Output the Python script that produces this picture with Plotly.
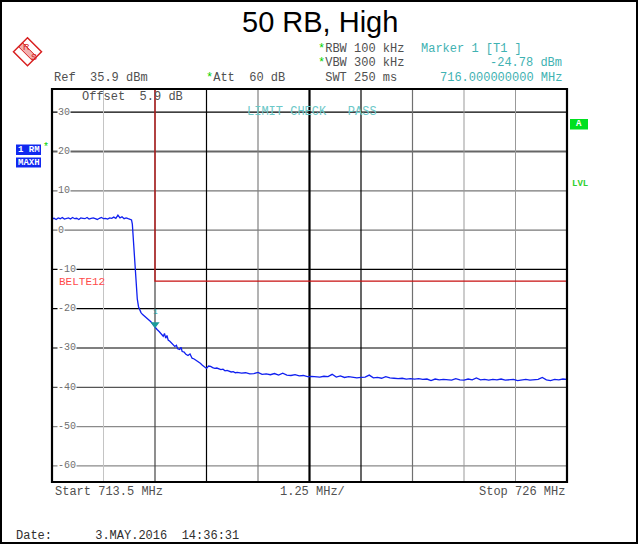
import plotly.graph_objects as go

# ---- trace data ----
# flat in-band part of the sweep
FLAT_MHZ = [713.50, 713.55, 713.60, 713.65, 713.70, 713.75, 713.80, 713.85, 713.90, 713.95,
            714.00, 714.05, 714.10, 714.15, 714.20, 714.25, 714.30, 714.35, 714.40, 714.45,
            714.50, 714.55, 714.60, 714.65, 714.70, 714.75, 714.80, 714.85, 714.90, 714.95,
            715.00, 715.05, 715.10, 715.15, 715.20, 715.25, 715.30, 715.35, 715.40]
FLAT_DBM = [2.9, 3.0, 2.7, 3.1, 2.9, 3.2, 2.8, 3.0, 3.1, 2.8,
            3.2, 2.9, 3.0, 2.7, 3.1, 3.0, 2.9, 3.2, 2.8, 3.0,
            3.1, 2.9, 2.7, 3.0, 3.2, 2.9, 3.0, 2.8, 3.1, 3.0,
            3.3, 3.0, 3.8, 3.1, 3.4, 2.9, 3.1, 2.9, 2.8]

# band edge roll-off
EDGE_MHZ = [715.43, 715.45, 715.47, 715.49, 715.51, 715.53, 715.55, 715.57, 715.60, 715.63,
            715.66, 715.70, 715.75, 715.80, 715.85, 715.90, 715.95, 716.00, 716.05, 716.10,
            716.15, 716.20, 716.23, 716.26, 716.29, 716.32, 716.36, 716.40, 716.44, 716.48,
            716.52, 716.55, 716.60, 716.63, 716.66, 716.70, 716.75, 716.80, 716.85, 716.90,
            716.95, 717.00, 717.05, 717.10, 717.15, 717.20, 717.25, 717.30, 717.35, 717.40,
            717.45, 717.50, 717.55, 717.60, 717.65, 717.70, 717.75, 717.80, 717.85, 717.90,
            717.95, 718.00]
EDGE_DBM = [2.6, 1.5, -2.0, -6.0, -9.5, -13.0, -16.5, -17.5, -19.5, -20.5,
            -21.0, -21.5, -21.9, -22.4, -22.8, -23.3, -24.0, -24.8, -25.3, -25.8,
            -26.5, -27.0, -26.3, -27.5, -26.8, -28.0, -28.3, -28.8, -29.2, -29.6,
            -29.3, -30.2, -30.4, -29.8, -30.9, -31.0, -31.6, -31.9, -31.5, -32.6,
            -32.8, -33.1, -33.5, -33.9, -34.4, -34.8, -35.2, -34.6, -34.7, -35.0,
            -35.2, -35.1, -35.3, -35.5, -35.4, -35.8, -35.7, -36.0, -36.1, -36.0,
            -36.3, -36.2]

# out-of-band noise floor
TAIL_MHZ = [718.1, 718.2, 718.3, 718.4, 718.5, 718.6, 718.7, 718.8, 718.9, 719.0,
            719.1, 719.2, 719.3, 719.4, 719.5, 719.6, 719.7, 719.8, 719.9, 720.0,
            720.1, 720.2, 720.3, 720.4, 720.5, 720.6, 720.7, 720.8, 720.9, 721.0,
            721.1, 721.2, 721.3, 721.4, 721.5, 721.6, 721.7, 721.8, 721.9, 722.0,
            722.1, 722.2, 722.3, 722.4, 722.5, 722.6, 722.7, 722.8, 722.9, 723.0,
            723.1, 723.2, 723.3, 723.4, 723.5, 723.6, 723.7, 723.8, 723.9, 724.0,
            724.1, 724.2, 724.3, 724.4, 724.5, 724.6, 724.7, 724.8, 724.9, 725.0,
            725.1, 725.2, 725.3, 725.4, 725.5, 725.6, 725.7, 725.8, 725.9, 726.0]
TAIL_DBM = [-36.4, -36.3, -36.6, -36.5, -36.2, -36.7, -36.6, -36.8, -36.5, -36.9,
            -36.4, -36.9, -37.0, -36.8, -37.1, -37.0, -37.3, -37.2, -37.3, -37.4,
            -37.2, -37.3, -36.7, -37.4, -37.1, -37.5, -37.3, -37.4, -37.6, -37.5,
            -37.4, -36.9, -37.6, -37.5, -37.7, -37.3, -37.6, -37.7, -37.8, -37.7,
            -37.9, -37.8, -37.9, -37.8, -38.0, -37.9, -38.3, -37.9, -38.1, -38.0,
            -38.1, -38.2, -37.8, -38.1, -38.2, -37.9, -38.1, -37.6, -38.1, -38.0,
            -38.2, -38.0, -38.1, -37.9, -38.2, -38.1, -38.0, -38.3, -38.1, -38.0,
            -38.2, -38.1, -38.0, -37.5, -38.1, -38.3, -38.0, -38.1, -37.9, -38.0]

LIMIT_MHZ = [716.0, 716.0, 726.0]
LIMIT_DBM = [35.9, -13.0, -13.0]

MARKER_MHZ = 716.0
MARKER_DBM = -24.78

REF_LEVEL = 35.9
START_MHZ, STOP_MHZ = 713.5, 726.0
Y_TICKS = [30, 20, 10, 0, -10, -20, -30, -40, -50, -60]
X_GRID = [714.75, 716.0, 717.25, 718.5, 719.75, 721.0, 722.25, 723.5, 724.75]

# gridline look (they are not all equal)
Y_GRID_STYLE = {30: ("#000000", 1.2), 20: ("#666666", 2), 10: ("#777777", 1.2),
                0: ("#777777", 1.2), -10: ("#000000", 1.2), -20: ("#000000", 1.2),
                -30: ("#000000", 1.2), -40: ("#555555", 1.2), -50: ("#8a8a8a", 1.2),
                -60: ("#8a8a8a", 1.2)}
X_GRID_STYLE = ["#c4c4c4", "#444444", "#000000", "#808080", "#000000",
                "#000000", "#707070", "#999999", "#999999"]
X_GRID_WIDTH = [1, 1.2, 1.2, 1.2, 2.2, 1.2, 1.2, 1, 1]

MONO = "Liberation Mono, Courier New, monospace"
GRAY = "#505050"
TEAL = "#3fb2b2"
GREEN = "#00d000"

# plot area in pixels: left 52, right 567, top 89, bottom 482
L, R, T, B = 52, 567, 89, 482


def px(x):
    return (x - L) / (R - L)


def py(y):
    return (B - y) / (B - T)


freq = FLAT_MHZ + EDGE_MHZ + TAIL_MHZ
level = FLAT_DBM + EDGE_DBM + TAIL_DBM

fig = go.Figure()
fig.add_trace(go.Scatter(x=LIMIT_MHZ, y=LIMIT_DBM, mode="lines",
                         line=dict(color="#c81010", width=1.2), hoverinfo="skip"))
fig.add_trace(go.Scatter(x=freq, y=level, mode="lines",
                         line=dict(color="#1020f0", width=1.3)))
fig.add_trace(go.Scatter(x=[MARKER_MHZ], y=[MARKER_DBM + 0.8], mode="markers",
                         marker=dict(symbol="triangle-down", size=8, color="#1a9a9a")))

shapes = []
for v in Y_TICKS:
    c, w = Y_GRID_STYLE[v]
    shapes.append(dict(type="line", xref="paper", yref="y", x0=0, x1=1, y0=v, y1=v,
                       line=dict(color=c, width=w), layer="below"))
for f, c, w in zip(X_GRID, X_GRID_STYLE, X_GRID_WIDTH):
    shapes.append(dict(type="line", xref="x", yref="paper", x0=f, x1=f, y0=0, y1=1,
                       line=dict(color=c, width=w), layer="below"))
# plot frame
shapes.append(dict(type="rect", xref="paper", yref="paper", x0=0, x1=1, y0=0, y1=1,
                   line=dict(color="black", width=2.2)))
# outer border of the screenshot
shapes.append(dict(type="rect", xref="paper", yref="paper", x0=px(1), x1=px(637),
                   y0=py(543), y1=py(1), line=dict(color="black", width=2)))
# blue trace boxes
shapes.append(dict(type="rect", xref="paper", yref="paper", x0=px(16), x1=px(41),
                   y0=py(155), y1=py(144.5), fillcolor="#1028f0", line=dict(width=0)))
shapes.append(dict(type="rect", xref="paper", yref="paper", x0=px(16), x1=px(41),
                   y0=py(167.5), y1=py(157.5), fillcolor="#1028f0", line=dict(width=0)))
# green "A" box
shapes.append(dict(type="rect", xref="paper", yref="paper", x0=px(570), x1=px(588),
                   y0=py(129.5), y1=py(119), fillcolor="#00e020", line=dict(width=0)))
# R&S logo diamond
cx, cy, h = 27.5, 51.7, 14
diamond = "M {} {} L {} {} L {} {} L {} {} Z".format(
    px(cx - h), py(cy), px(cx), py(cy - h), px(cx + h), py(cy), px(cx), py(cy + h))
shapes.append(dict(type="path", xref="paper", yref="paper", path=diamond,
                   line=dict(color="#d82020", width=1.5)))
band = "M {} {} L {} {} L {} {} L {} {} Z".format(
    px(cx - 5), py(cy - 9), px(cx + 9), py(cy + 5), px(cx + 5), py(cy + 9), px(cx - 9), py(cy - 5))
shapes.append(dict(type="path", xref="paper", yref="paper", path=band,
                   line=dict(color="#d82020", width=1), fillcolor="rgba(216,32,32,0.35)"))


def txt(x, y, s, color=GRAY, size=12, anchor="left", family=MONO, **kw):
    return dict(x=px(x), y=py(y), xref="paper", yref="paper", text=s, showarrow=False,
                xanchor=anchor, yanchor="middle", font=dict(family=family, size=size, color=color),
                **kw)


ann = []
# level labels sit on the gridlines, breaking them
for v in Y_TICKS:
    ann.append(dict(x=px(57), y=v, xref="paper", yref="y", text=str(v), showarrow=False,
                    xanchor="left", yanchor="middle", bgcolor="white", borderpad=0,
                    font=dict(family=MONO, size=10, color="#707070")))

ann += [
    txt(319.5, 22, "50 RB, High", color="black", size=29, anchor="center",
        family="Liberation Sans, Arial, sans-serif"),
    txt(316, 49, "<span style='color:%s'>*</span>RBW 100 kHz" % GREEN),
    txt(316, 63, "<span style='color:%s'>*</span>VBW 300 kHz" % GREEN),
    txt(316, 78, " SWT 250 ms"),
    txt(419, 49, "Marker 1 [T1 ]", color=TEAL),
    txt(564, 63, "-24.78 dBm", color=TEAL, anchor="right"),
    txt(564, 78, "716.000000000 MHz", color=TEAL, anchor="right"),
    txt(52, 78, "Ref  35.9 dBm"),
    txt(204, 78, "<span style='color:%s'>*</span>Att  60 dB" % GREEN),
    txt(80, 97, "Offset  5.9 dB"),
    txt(245, 112, "LIMIT CHECK   PASS", color="#6cc8c8"),
    txt(57, 282, "BELTE12", color="#ff4a4a", size=11),
    txt(28.5, 150, "<b>1 RM</b>", color="white", size=9, anchor="center"),
    txt(46, 148, "*", color=GREEN, size=10, anchor="center"),
    txt(28.5, 162.5, "<b>MAXH</b>", color="white", size=9, anchor="center"),
    txt(579, 124.5, "<b>A</b>", color="white", size=9, anchor="center"),
    txt(570, 183.5, "<b>LVL</b>", color="#30d030", size=9),
    txt(53, 492, "Start 713.5 MHz"),
    txt(278, 492, "1.25 MHz/"),
    txt(567, 492, "Stop 726 MHz", anchor="right"),
    txt(14, 536, "Date:      3.MAY.2016  14:36:31", color="#303030"),
    txt(21, 47, "R", color="#d82020", size=9, family="Liberation Sans, Arial"),
    txt(29, 57, "S", color="#d82020", size=9, family="Liberation Sans, Arial"),
    dict(x=MARKER_MHZ, y=MARKER_DBM, xref="x", yref="y", text="1", showarrow=False,
         yshift=16, font=dict(family=MONO, size=8, color="#1a9a9a")),
]

fig.update_layout(
    width=638, height=544,
    margin=dict(l=L, r=638 - R, t=T, b=544 - B),
    paper_bgcolor="white", plot_bgcolor="white",
    showlegend=False,
    xaxis=dict(range=[START_MHZ, STOP_MHZ], showgrid=False, zeroline=False,
               showticklabels=False, ticks=""),
    yaxis=dict(range=[REF_LEVEL - 100, REF_LEVEL], showgrid=False, zeroline=False,
               showticklabels=False, ticks=""),
    shapes=shapes,
    annotations=ann,
)

# the page body has a default 8px margin; drop it so the figure fills the window
fig.write_html("out.html", config={"displayModeBar": False},
               post_script="document.body.style.margin='0';document.body.style.overflow='hidden';")
